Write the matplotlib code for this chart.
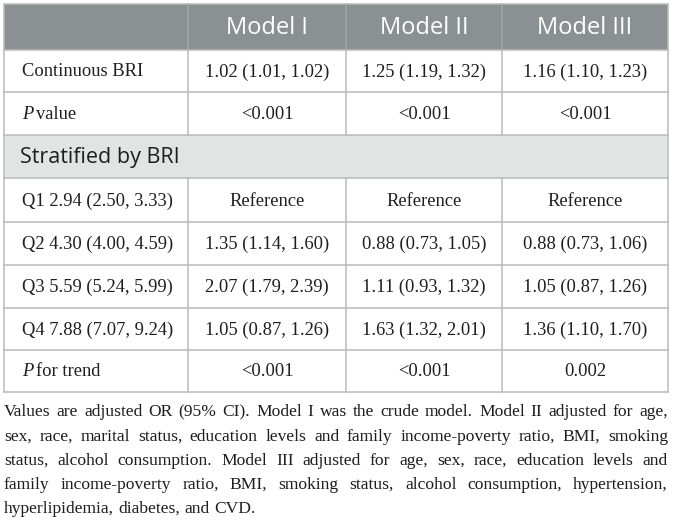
import matplotlib
matplotlib.use("Agg")
import matplotlib.pyplot as plt
from matplotlib.patches import Rectangle

# ----------------------------------------------------------------------------------
# Table content
# ----------------------------------------------------------------------------------
models = ["Model I", "Model II", "Model III"]
continuous_row = ["Continuous BRI", "1.02 (1.01, 1.02)", "1.25 (1.19, 1.32)",
                  "1.16 (1.10, 1.23)"]
pvalue_row = ["value", "<0.001", "<0.001", "<0.001"]
section_label = "Stratified by BRI"
quartiles = ["Q1 2.94 (2.50, 3.33)", "Q2 4.30 (4.00, 4.59)",
             "Q3 5.59 (5.24, 5.99)", "Q4 7.88 (7.07, 9.24)"]
model1 = ["Reference", "1.35 (1.14, 1.60)", "2.07 (1.79, 2.39)",
          "1.05 (0.87, 1.26)"]
model2 = ["Reference", "0.88 (0.73, 1.05)", "1.11 (0.93, 1.32)",
          "1.63 (1.32, 2.01)"]
model3 = ["Reference", "0.88 (0.73, 1.06)", "1.05 (0.87, 1.26)",
          "1.36 (1.10, 1.70)"]
trend_row = ["for trend", "<0.001", "<0.001", "0.002"]
footnote = [
    "Values are adjusted OR (95% CI). Model I was the crude model. Model II adjusted for age,",
    "sex, race, marital status, education levels and family income-poverty ratio, BMI, smoking",
    "status, alcohol consumption. Model III adjusted for age, sex, race, education levels and",
    "family income-poverty ratio, BMI, smoking status, alcohol consumption, hypertension,",
    "hyperlipidemia, diabetes, and CVD.",
]

# ----------------------------------------------------------------------------------
# Layout (pixels)
# ----------------------------------------------------------------------------------
W, H = 673, 524
col_x = [4, 188, 346, 502, 668]
row_y = [4, 50, 92, 135, 178, 222, 265, 308, 350, 392]
foot_base = [416, 441, 465, 489, 513]

serif = "Liberation Serif"
sans = "Open Sans"
fs_body = 13.3
fs_foot = 12.6
fs_head = 17
fs_sect = 15.5
line_col = "#b9bbbb"
head_bg = "#8b9192"
sect_bg = "#e2e3e3"
txt_col = "#1e1e1e"

fig = plt.figure(figsize=(W / 100, H / 100), dpi=100)
ax = fig.add_axes([0, 0, 1, 1])
ax.set_xlim(0, W)
ax.set_ylim(H, 0)
ax.axis("off")

# header band and section band
ax.add_patch(Rectangle((col_x[0], row_y[0]), col_x[-1] - col_x[0],
                       row_y[1] - row_y[0], color=head_bg, lw=0))
ax.add_patch(Rectangle((col_x[0], row_y[3]), col_x[-1] - col_x[0],
                       row_y[4] - row_y[3], color=sect_bg, lw=0))

# horizontal rules
for y in row_y:
    ax.plot([col_x[0], col_x[-1]], [y, y], color=line_col, lw=1.1)
# vertical rules (skip the section row)
for i, x in enumerate(col_x):
    edge = i in (0, len(col_x) - 1)
    segs = [(row_y[0], row_y[1]), (row_y[1], row_y[3]), (row_y[4], row_y[-1])]
    if edge:
        segs = [(row_y[0], row_y[-1])]
    for y0, y1 in segs:
        c = "#a3a8a9" if (not edge and y0 == row_y[0]) else line_col
        ax.plot([x, x], [y0, y1], color=c, lw=1.1)


def mid(a, b):
    return (a + b) / 2


# header text
for j, m in enumerate(models):
    ax.text(mid(col_x[j + 1], col_x[j + 2]), mid(row_y[0], row_y[1]) + 1, m,
            ha="center", va="center", color="white", fontsize=fs_head,
            family=sans)

label_x = 22


def body_row(r, cells, italic_p=False):
    yc = mid(row_y[r], row_y[r + 1]) + 1
    if italic_p:
        t = ax.text(label_x, yc, "P", ha="left", va="center", fontsize=fs_body,
                    family=serif, style="italic", color=txt_col)
        fig.canvas.draw()
        bb = t.get_window_extent()
        ax.text(label_x + bb.width + 3, yc, cells[0], ha="left", va="center",
                fontsize=fs_body, family=serif, color=txt_col)
    else:
        ax.text(label_x, yc, cells[0], ha="left", va="center",
                fontsize=fs_body, family=serif, color=txt_col)
    for j, v in enumerate(cells[1:]):
        ax.text(mid(col_x[j + 1], col_x[j + 2]), yc, v, ha="center",
                va="center", fontsize=fs_body, family=serif, color=txt_col)


body_row(1, continuous_row)
body_row(2, pvalue_row, italic_p=True)
ax.text(20, mid(row_y[3], row_y[4]) + 1, section_label, ha="left",
        va="center", fontsize=fs_sect, family=sans, color=txt_col)
for k in range(4):
    body_row(4 + k, [quartiles[k], model1[k], model2[k], model3[k]])
body_row(8, trend_row, italic_p=True)

# justified footnote
fig.canvas.draw()
renderer = fig.canvas.get_renderer()
left, right = col_x[0], col_x[-1]
for n, line in enumerate(footnote):
    words = line.split(" ")
    texts = []
    widths = []
    for w in words:
        t = ax.text(0, foot_base[n], w, ha="left", va="baseline",
                    fontsize=fs_foot, family=serif, color=txt_col)
        widths.append(t.get_window_extent(renderer).width)
        texts.append(t)
    if n < len(footnote) - 1:
        gap = (right - left - sum(widths)) / (len(words) - 1)
    else:
        sp = ax.text(0, 0, "a a", fontsize=fs_foot, family=serif)
        sa = ax.text(0, 0, "aa", fontsize=fs_foot, family=serif)
        gap = sp.get_window_extent(renderer).width - sa.get_window_extent(renderer).width
        sp.remove()
        sa.remove()
    x = left
    for t, w in zip(texts, widths):
        t.set_x(x)
        x += w + gap

fig.savefig("out.png", dpi=100)
